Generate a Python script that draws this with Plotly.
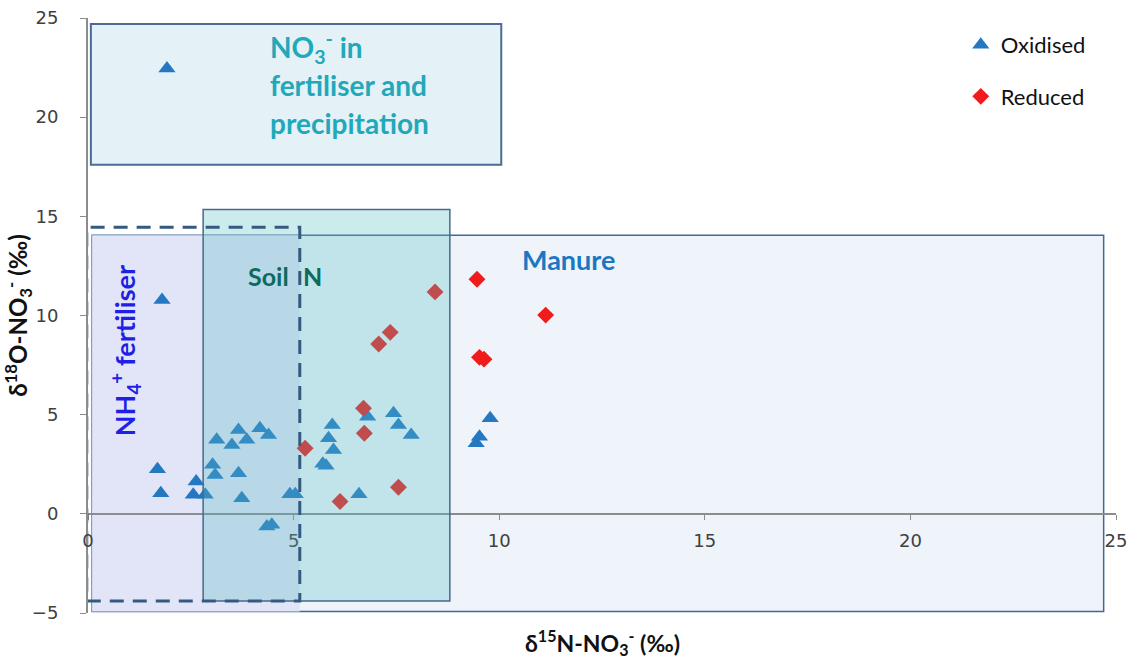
import plotly.graph_objects as go

# ---- data (δ15N, δ18O) ----
ox_x = [1.92, 1.80, 1.69, 1.77, 2.63, 2.56, 2.85, 3.03, 3.09, 3.13, 3.50, 3.66, 3.86, 3.66, 3.74,
        4.18, 4.39, 4.35, 4.47, 4.91, 5.04, 5.71, 5.79, 5.85, 5.94, 5.97, 6.59, 6.80, 7.43, 7.55,
        7.86, 9.44, 9.52, 9.78]
ox_y = [22.46, 10.78, 2.25, 1.04, 1.63, 0.96, 0.96, 2.47, 1.96, 3.73, 3.47, 4.23, 3.73, 2.05, 0.79,
        4.31, 3.98, -0.64, -0.55, 0.99, 0.99, 2.52, 2.43, 3.81, 4.48, 3.22, 0.99, 4.90, 5.07, 4.48,
        3.98, 3.56, 3.89, 4.82]
red_x = [8.44, 9.46, 11.13, 7.35, 7.07, 9.52, 9.63, 6.70, 6.72, 5.28, 7.55, 6.13]
red_y = [11.19, 11.83, 10.02, 9.15, 8.56, 7.89, 7.80, 5.32, 4.06, 3.31, 1.34, 0.62]

x_ticks = [0, 5, 10, 15, 20, 25]
y_ticks = [-5, 0, 5, 10, 15, 20, 25]

# source boxes: (x0, x1, y0, y1)
box_no3 = (0.07, 10.05, 17.6, 24.7)
box_manure = (0.1, 24.7, -4.93, 14.05)
box_nh4_fill = (0.1, 5.15, -4.93, 14.05)
box_nh4_dash = (-0.03, 5.15, -4.4, 14.45)
box_soil = (2.8, 8.8, -4.4, 15.35)

TXT = "Lato"
fig = go.Figure()

fig.add_trace(go.Scatter(x=ox_x, y=ox_y, mode="markers", name="Oxidised", legendgroup="a",
                         marker=dict(symbol="triangle-up", size=15, color="#2478c2", line=dict(width=0))))
fig.add_trace(go.Scatter(x=red_x, y=red_y, mode="markers", name="Reduced", legendgroup="b",
                         marker=dict(symbol="diamond", size=13, color="#f01c1c", line=dict(width=0))))

def rect(b, **kw):
    fig.add_shape(type="rect", xref="x", yref="y", x0=b[0], x1=b[1], y0=b[2], y1=b[3], **kw)

rect(box_no3, fillcolor="#e4f2f7", line=dict(color="#4a6c96", width=2), layer="below")
rect(box_manure, fillcolor="#eff4fb", line=dict(color="#3e6a98", width=1.5), layer="below")
rect(box_nh4_fill, fillcolor="#e2e4f8", line=dict(width=0), layer="below")
rect(box_soil, fillcolor="rgba(85,188,195,0.30)", line=dict(color="#47698c", width=1.5), layer="above")
rect(box_nh4_dash, fillcolor="rgba(0,0,0,0)", line=dict(color="#345a80", width=3, dash="14px,9px"), layer="above")

def ann(x, y, text, color, size, **kw):
    fig.add_annotation(x=x, y=y, xref="x", yref="y", text=text, showarrow=False,
                       font=dict(family=TXT, size=size, color=color, weight="bold"), **kw)

ann(4.38, 23.5, "NO<sub>3</sub><sup>-</sup> in", "#22a8bb", 28, xanchor="left")
ann(4.38, 21.6, "fertiliser and", "#22a8bb", 28, xanchor="left")
ann(4.38, 19.7, "precipitation", "#22a8bb", 28, xanchor="left")
ann(0.90, 8.2, "NH<sub>4</sub><sup>+</sup> fertiliser", "#1f1fe6", 27, textangle=-90)
ann(4.40, 12.0, "Soil", "#0d6a5d", 25)
ann(5.47, 12.0, "N", "#0d6a5d", 25)
ann(11.68, 12.8, "Manure", "#1c77c3", 27)

fig.add_annotation(x=0.5, y=-0.05, xref="paper", yref="paper", showarrow=False,
                   xanchor="center", yanchor="middle",
                   text="δ<sup>15</sup>N-NO<sub>3</sub><sup>-</sup> (‰)",
                   font=dict(family=TXT, size=23, color="#111", weight="bold"))

axis_font = dict(family="DejaVu Sans", size=18, color="#404040")
fig.update_layout(
    width=1132, height=662,
    margin=dict(l=88, r=16, t=18, b=49, autoexpand=False),
    paper_bgcolor="white", plot_bgcolor="white",
    showlegend=True,
    legend=dict(x=0.849, y=0.99, xanchor="left", yanchor="top", bgcolor="rgba(0,0,0,0)",
                font=dict(family=TXT, size=22, color="#111"), tracegroupgap=20),
    xaxis=dict(range=[0, 25], tickvals=x_ticks, showgrid=False, zeroline=False, automargin=False,
               showline=True, linecolor="#8c8c8c", linewidth=2, ticks="outside", ticklen=5,
               tickcolor="#8c8c8c", tickfont=axis_font, anchor="free", position=5/30,
               ticklabelstandoff=6, ticklabeloverflow="allow"),
    yaxis=dict(range=[-5, 25], tickvals=y_ticks, showgrid=False, zeroline=False, automargin=False,
               showline=True, linecolor="#8c8c8c", linewidth=2, ticks="outside", ticklen=6,
               tickcolor="#8c8c8c", tickfont=axis_font, ticklabelstandoff=18,
               title=dict(text="δ<sup>18</sup>O-NO<sub>3</sub><sup>-</sup> (‰)", standoff=4,
                          font=dict(family=TXT, size=24, color="#111", weight="bold"))),
)

fig.write_html("out.html")
